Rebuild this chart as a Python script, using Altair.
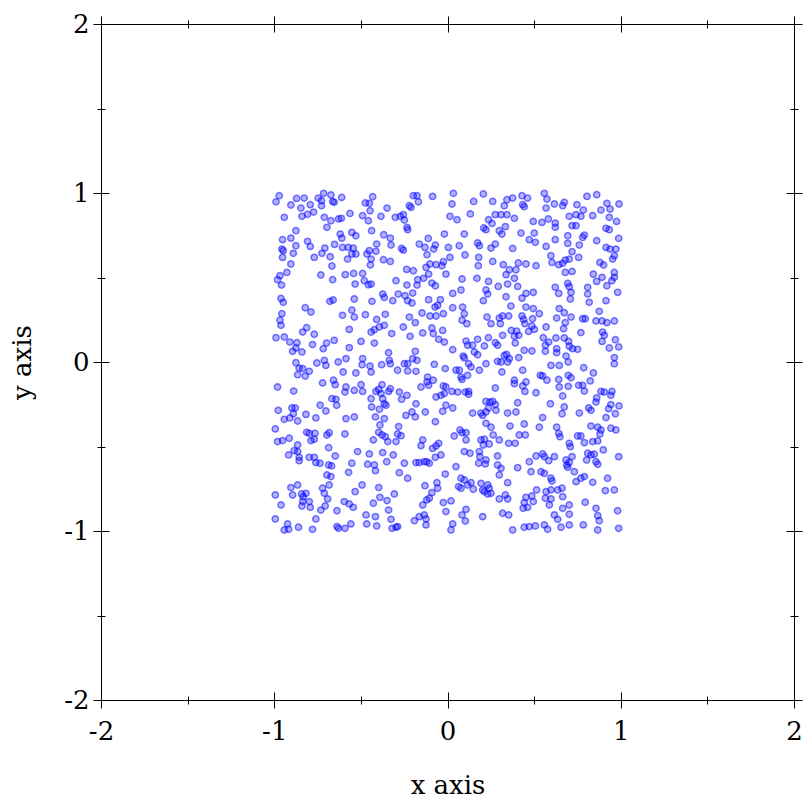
import altair as alt
import pandas as pd

# Points (x, y), grouped by band of the square
TOP_BAND = [
    (-0.971,0.984),(-0.990,0.948),(-0.871,0.968),(-0.827,0.970),(-0.904,0.929),(-0.846,0.911),(-0.792,0.931),(-0.746,0.970),(-0.715,0.998),(-0.673,0.988),(-0.727,0.954),(-0.727,0.925),(-0.663,0.950),(-0.654,0.945),(-0.611,0.974),(-0.942,0.856),(-0.840,0.862),(-0.808,0.874),(-0.773,0.887),(-0.711,0.856),(-0.673,0.836),(-0.629,0.846),(-0.613,0.850),(-0.563,0.879),(-0.696,0.797),(-0.875,0.777),(-0.952,0.724),(-0.904,0.733),(-0.875,0.688),(-0.956,0.668),(-0.948,0.659),(-0.952,0.619),(-0.890,0.643),(-0.808,0.714),(-0.792,0.684),(-0.708,0.674),(-0.725,0.643),(-0.769,0.619),(-0.677,0.623),(-0.652,0.696),(-0.619,0.757),(-0.610,0.733),(-0.606,0.678),(-0.573,0.678),(-0.544,0.674),(-0.552,0.767),(-0.529,0.747),(-0.552,0.639),(-0.577,0.609),(-0.529,0.639),(-0.667,0.568),(-0.904,0.580),(-0.927,0.530),(-0.967,0.511),(-0.981,0.487),(-0.958,0.455),(-0.731,0.515),(-0.663,0.487),(-0.590,0.517),(-0.542,0.524),(-0.533,0.461),(-0.961,0.376),(-0.948,0.353),(-0.679,0.359),(-0.660,0.367),(-0.538,0.373),
    (-0.432,0.978),(-0.474,0.941),(-0.451,0.939),(-0.447,0.895),(-0.490,0.866),(-0.457,0.836),(-0.384,0.862),(-0.349,0.911),(-0.438,0.777),(-0.301,0.856),(-0.272,0.862),(-0.255,0.872),(-0.249,0.840),(-0.234,0.797),(-0.230,0.783),(-0.220,0.925),(-0.211,0.915),(-0.197,0.984),(-0.176,0.984),(-0.168,0.948),(-0.086,0.980),(-0.368,0.753),(-0.330,0.733),(-0.326,0.692),(-0.451,0.659),(-0.409,0.698),(-0.413,0.655),(-0.465,0.639),(-0.441,0.609),(-0.445,0.574),(-0.265,0.672),(-0.255,0.662),(-0.370,0.605),(-0.330,0.595),(-0.163,0.698),(-0.130,0.678),(-0.118,0.635),(-0.111,0.731),(-0.070,0.692),(-0.080,0.668),(-0.018,0.757),(-0.490,0.524),(-0.480,0.481),(-0.457,0.457),(-0.441,0.461),(-0.297,0.481),(-0.234,0.455),(-0.236,0.548),(-0.197,0.540),(-0.172,0.487),(-0.176,0.455),(-0.124,0.560),(-0.101,0.580),(-0.066,0.576),(-0.109,0.520),(-0.138,0.495),(-0.090,0.467),(-0.070,0.451),(-0.024,0.593),(-0.032,0.570),(-0.009,0.520),(-0.436,0.359),(-0.374,0.402),(-0.365,0.382),(-0.316,0.363),(-0.284,0.402),(-0.245,0.392),(-0.201,0.408),(-0.230,0.363),(-0.109,0.369),(-0.041,0.369),
    (0.034,0.998),(0.026,0.935),(0.151,0.950),(0.207,0.994),(0.261,0.950),(0.343,0.960),(0.376,0.970),(0.430,0.984),(0.462,0.970),(0.434,0.931),(0.443,0.919),(0.328,0.925),(0.014,0.862),(0.055,0.842),(0.132,0.876),(0.237,0.842),(0.257,0.820),(0.276,0.872),(0.309,0.872),(0.343,0.872),(0.386,0.850),(0.495,0.832),(0.209,0.793),(0.222,0.783),(0.299,0.777),(0.314,0.757),(0.334,0.801),(0.424,0.763),(0.472,0.724),(0.501,0.763),(0.507,0.708),(0.097,0.757),(0.005,0.678),(0.068,0.688),(0.174,0.704),(0.184,0.688),(0.251,0.674),(0.276,0.698),(0.376,0.672),(0.014,0.619),(0.101,0.633),(0.180,0.619),(0.261,0.595),(0.178,0.570),(0.084,0.491),(0.170,0.495),(0.237,0.477),(0.322,0.576),(0.357,0.546),(0.395,0.546),(0.409,0.586),(0.453,0.580),(0.511,0.570),(0.338,0.517),(0.386,0.495),(0.405,0.447),(0.347,0.461),(0.293,0.447),(0.222,0.426),(0.232,0.402),(0.207,0.363),(0.030,0.406),(0.078,0.426),(0.338,0.386),(0.430,0.378),(0.453,0.406),(0.495,0.412),
    (0.559,0.998),(0.574,0.964),(0.617,0.935),(0.665,0.925),(0.674,0.945),(0.747,0.931),(0.805,0.980),(0.861,0.990),(0.569,0.911),(0.920,0.939),(0.938,0.905),(0.990,0.935),(0.886,0.899),(0.784,0.899),(0.742,0.872),(0.703,0.862),(0.770,0.862),(0.838,0.866),(0.934,0.856),(0.976,0.832),(0.545,0.826),(0.582,0.846),(0.622,0.822),(0.622,0.797),(0.719,0.807),(0.742,0.807),(0.915,0.791),(0.934,0.783),(0.622,0.724),(0.694,0.747),(0.694,0.702),(0.761,0.692),(0.780,0.737),(0.790,0.751),(0.861,0.718),(0.988,0.732),(0.915,0.678),(0.938,0.668),(0.972,0.668),(0.569,0.684),(0.597,0.629),(0.603,0.589),(0.642,0.576),(0.665,0.584),(0.680,0.603),(0.719,0.653),(0.703,0.609),(0.757,0.619),(0.880,0.589),(0.901,0.574),(0.963,0.629),(0.953,0.609),(0.680,0.530),(0.719,0.536),(0.842,0.520),(0.892,0.501),(0.963,0.530),(0.963,0.501),(0.949,0.481),(0.861,0.477),(0.920,0.451),(0.622,0.442),(0.642,0.406),(0.694,0.465),(0.703,0.446),(0.713,0.412),(0.709,0.373),(0.809,0.442),(0.809,0.402),(0.818,0.353),(0.915,0.363),(0.982,0.412),
]

MID_BAND = [
    (-0.821,0.321),(-0.788,0.296),(-0.956,0.286),(-0.967,0.247),(-0.961,0.217),(-0.606,0.276),(-0.552,0.306),(-0.538,0.266),(-0.813,0.203),(-0.836,0.177),(-0.769,0.164),(-0.990,0.144),(-0.942,0.148),(-0.910,0.118),(-0.869,0.114),(-0.894,0.063),(-0.875,0.083),(-0.840,0.059),(-0.779,0.103),(-0.698,0.112),(-0.654,0.128),(-0.717,0.079),(-0.567,0.193),(-0.567,0.085),(-0.875,-0.004),(-0.856,-0.036),(-0.836,-0.039),(-0.865,-0.075),(-0.821,-0.083),(-0.798,-0.055),(-0.754,-0.006),(-0.711,0.010),(-0.702,-0.020),(-0.631,0.000),(-0.586,0.020),(-0.602,-0.059),(-0.529,-0.065),(-0.981,-0.148),(-0.888,-0.172),(-0.721,-0.124),(-0.658,-0.108),(-0.648,-0.134),(-0.586,-0.148),(-0.592,-0.178),(-0.538,-0.168),(-0.667,-0.217),(-0.644,-0.221),(-0.640,-0.256),(-0.735,-0.256),(-0.702,-0.290),(-0.977,-0.286),(-0.898,-0.272),(-0.879,-0.272),(-0.890,-0.306),(-0.910,-0.331),(-0.942,-0.339),(-0.817,-0.310),(-0.760,-0.331),(-0.586,-0.335),(-0.538,-0.325),
    (-0.205,0.349),(-0.072,0.325),(-0.057,0.335),(-0.474,0.280),(-0.359,0.282),(-0.409,0.252),(-0.220,0.266),(-0.186,0.233),(-0.147,0.290),(-0.101,0.272),(-0.066,0.272),(-0.024,0.286),(-0.441,0.177),(-0.422,0.191),(-0.393,0.207),(-0.365,0.217),(-0.322,0.168),(-0.255,0.207),(-0.216,0.152),(-0.143,0.172),(-0.090,0.201),(-0.082,0.168),(-0.028,0.187),(-0.051,0.134),(-0.018,0.118),(-0.499,0.122),(-0.422,0.112),(-0.340,0.055),(-0.186,0.063),(-0.490,0.020),(-0.493,-0.016),(-0.447,-0.024),(-0.441,-0.059),(-0.380,-0.016),(-0.330,-0.010),(-0.336,0.010),(-0.288,-0.049),(-0.249,-0.010),(-0.230,-0.010),(-0.230,-0.053),(-0.201,0.020),(-0.176,0.010),(-0.182,-0.055),(-0.076,-0.014),(-0.115,-0.089),(-0.118,-0.118),(-0.082,-0.108),(-0.013,-0.039),(-0.499,-0.134),(-0.490,-0.174),(-0.441,-0.217),(-0.413,-0.174),(-0.397,-0.162),(-0.378,-0.134),(-0.384,-0.187),(-0.374,-0.217),(-0.355,-0.256),(-0.340,-0.174),(-0.330,-0.158),(-0.278,-0.178),(-0.265,-0.221),(-0.234,-0.197),(-0.153,-0.148),(-0.109,-0.138),(-0.024,-0.142),(-0.066,-0.207),(-0.038,-0.197),(-0.018,-0.187),(-0.438,-0.266),(-0.393,-0.280),(-0.365,-0.247),(-0.416,-0.325),(-0.365,-0.335),(-0.240,-0.316),(-0.205,-0.296),(-0.182,-0.247),(-0.186,-0.325),(-0.128,-0.296),(-0.028,-0.292),(-0.009,-0.256),
    (0.030,0.321),(0.087,0.325),(0.097,0.286),(0.084,0.247),(0.111,0.227),(0.366,0.331),(0.453,0.325),(0.495,0.316),(0.228,0.266),(0.251,0.227),(0.299,0.260),(0.318,0.272),(0.353,0.272),(0.305,0.227),(0.430,0.272),(0.439,0.252),(0.447,0.227),(0.491,0.256),(0.487,0.213),(0.368,0.187),(0.399,0.183),(0.386,0.152),(0.411,0.158),(0.468,0.181),(0.501,0.193),(0.107,0.124),(0.116,0.099),(0.145,0.099),(0.155,0.059),(0.174,0.043),(0.174,0.134),(0.236,0.144),(0.213,0.095),(0.276,0.114),(0.289,0.099),(0.318,0.158),(0.391,0.112),(0.030,0.073),(0.091,0.035),(0.097,0.024),(0.122,-0.010),(0.136,-0.030),(0.222,-0.010),(0.184,-0.049),(0.049,-0.049),(0.068,-0.049),(0.078,-0.089),(0.084,-0.103),(0.116,-0.079),(0.289,0.004),(0.309,0.000),(0.328,0.039),(0.341,0.045),(0.347,0.000),(0.357,0.020),(0.411,0.026),(0.434,-0.049),(0.443,0.069),(0.487,0.065),(0.314,-0.059),(-0.009,-0.148),(0.026,-0.174),(0.059,-0.178),(0.103,-0.178),(0.122,-0.174),(0.122,-0.191),(0.276,-0.154),(0.386,-0.108),(0.386,-0.128),(0.453,-0.118),(0.434,-0.142),(0.447,-0.174),(0.511,-0.182),(0.222,-0.233),(0.245,-0.237),(0.261,-0.233),(0.276,-0.252),(0.237,-0.272),(0.280,-0.286),(0.405,-0.241),(0.395,-0.296),(0.347,-0.302),(0.193,-0.302),(0.203,-0.316),(0.222,-0.296),(0.145,-0.302),(0.030,-0.272),
    (0.530,0.286),(0.569,0.207),(0.645,0.316),(0.674,0.292),(0.713,0.266),(0.630,0.260),(0.680,0.233),(0.670,0.197),(0.876,0.300),(0.857,0.243),(0.892,0.243),(0.920,0.233),(0.963,0.243),(0.780,0.256),(0.795,0.256),(0.770,0.174),(0.895,0.177),(0.905,0.158),(0.892,0.122),(0.969,0.132),(0.988,0.089),(0.934,0.083),(0.553,0.144),(0.565,0.099),(0.584,0.118),(0.626,0.142),(0.630,0.079),(0.630,0.055),(0.674,0.142),(0.699,0.122),(0.703,0.093),(0.722,0.079),(0.751,0.075),(0.684,0.035),(0.697,0.000),(0.645,-0.020),(0.597,-0.020),(0.565,0.063),(0.963,0.026),(0.963,-0.010),(0.786,-0.034),(0.842,-0.065),(0.536,-0.079),(0.549,-0.083),(0.574,-0.108),(0.642,-0.103),(0.697,-0.079),(0.713,-0.093),(0.645,-0.148),(0.697,-0.144),(0.757,-0.138),(0.780,-0.138),(0.790,-0.172),(0.824,-0.112),(0.665,-0.201),(0.886,-0.174),(0.905,-0.178),(0.949,-0.174),(0.861,-0.213),(0.857,-0.237),(0.943,-0.197),(0.594,-0.247),(0.674,-0.266),(0.661,-0.306),(0.761,-0.302),(0.815,-0.272),(0.828,-0.286),(0.930,-0.276),(0.943,-0.252),(0.990,-0.260),(0.969,-0.306),(0.915,-0.329),(0.549,-0.329),
]

BOTTOM_BAND = [
    (-0.865,-0.349),(-0.994,-0.396),(-0.981,-0.471),(-0.952,-0.465),(-0.913,-0.451),(-0.813,-0.416),(-0.798,-0.422),(-0.765,-0.422),(-0.788,-0.465),(-0.769,-0.457),(-0.696,-0.432),(-0.683,-0.418),(-0.592,-0.426),(-0.865,-0.491),(-0.885,-0.524),(-0.865,-0.530),(-0.856,-0.564),(-0.856,-0.584),(-0.917,-0.550),(-0.798,-0.564),(-0.769,-0.564),(-0.760,-0.595),(-0.736,-0.599),(-0.686,-0.609),(-0.669,-0.615),(-0.686,-0.507),(-0.648,-0.556),(-0.552,-0.599),(-0.696,-0.668),(-0.673,-0.678),(-0.571,-0.653),(-0.519,-0.530),(-0.994,-0.787),(-0.961,-0.846),(-0.904,-0.743),(-0.865,-0.728),(-0.894,-0.787),(-0.842,-0.781),(-0.833,-0.797),(-0.817,-0.777),(-0.836,-0.826),(-0.840,-0.852),(-0.798,-0.826),(-0.792,-0.860),(-0.721,-0.747),(-0.711,-0.777),(-0.683,-0.728),(-0.692,-0.810),(-0.706,-0.852),(-0.731,-0.876),(-0.638,-0.880),(-0.596,-0.826),(-0.567,-0.840),(-0.533,-0.767),(-0.544,-0.860),(-0.994,-0.929),(-0.923,-0.958),(-0.942,-0.994),(-0.917,-0.990),(-0.860,-0.978),(-0.779,-0.990),(-0.760,-0.929),(-0.638,-0.974),(-0.629,-0.984),(-0.592,-0.984),(-0.558,-0.958),
    (-0.390,-0.373),(-0.282,-0.382),(-0.288,-0.426),(-0.268,-0.436),(-0.397,-0.416),(-0.378,-0.432),(-0.359,-0.442),(-0.345,-0.471),(-0.428,-0.461),(-0.297,-0.471),(-0.070,-0.353),(-0.153,-0.495),(-0.143,-0.461),(-0.086,-0.511),(-0.066,-0.497),(-0.051,-0.481),(-0.038,-0.550),(-0.070,-0.564),(-0.451,-0.544),(-0.374,-0.536),(-0.313,-0.550),(-0.351,-0.590),(-0.461,-0.605),(-0.422,-0.609),(-0.416,-0.643),(-0.249,-0.599),(-0.278,-0.655),(-0.230,-0.688),(-0.182,-0.595),(-0.163,-0.595),(-0.134,-0.590),(-0.120,-0.590),(-0.105,-0.599),(-0.013,-0.663),(-0.493,-0.728),(-0.397,-0.743),(-0.390,-0.801),(-0.349,-0.820),(-0.307,-0.781),(-0.428,-0.836),(-0.340,-0.876),(-0.470,-0.905),(-0.416,-0.915),(-0.326,-0.931),(-0.466,-0.958),(-0.409,-0.970),(-0.320,-0.984),(-0.297,-0.978),(-0.288,-0.974),(-0.191,-0.939),(-0.163,-0.915),(-0.134,-0.905),(-0.124,-0.929),(-0.124,-0.964),(-0.143,-0.846),(-0.120,-0.816),(-0.105,-0.806),(-0.090,-0.773),(-0.057,-0.747),(-0.061,-0.714),(-0.024,-0.832),(-0.130,-0.732),
    (0.072,-0.402),(0.084,-0.418),(0.039,-0.438),(0.107,-0.418),(0.107,-0.461),(0.222,-0.363),(0.251,-0.386),(0.361,-0.379),(0.443,-0.367),(0.097,-0.530),(0.130,-0.540),(0.193,-0.461),(0.213,-0.457),(0.207,-0.491),(0.241,-0.485),(0.264,-0.432),(0.299,-0.461),(0.353,-0.481),(0.391,-0.481),(0.414,-0.432),(0.449,-0.432),(0.184,-0.530),(0.187,-0.560),(0.180,-0.599),(0.222,-0.580),(0.218,-0.603),(0.289,-0.556),(0.289,-0.609),(0.309,-0.629),(0.511,-0.556),(0.472,-0.590),(0.482,-0.649),(0.405,-0.625),(0.049,-0.619),(0.078,-0.688),(0.097,-0.698),(0.136,-0.714),(0.116,-0.728),(0.149,-0.753),(0.078,-0.747),(0.064,-0.737),(0.193,-0.718),(0.203,-0.757),(0.232,-0.728),(0.241,-0.747),(0.213,-0.767),(0.232,-0.781),(0.251,-0.777),(0.299,-0.810),(0.334,-0.787),(0.347,-0.810),(0.347,-0.714),(0.299,-0.668),(0.020,-0.822),(-0.009,-0.885),(0.084,-0.905),(0.107,-0.872),(0.103,-0.941),(0.203,-0.915),(0.318,-0.895),(0.353,-0.905),(0.376,-0.994),(0.443,-0.978),(0.472,-0.974),(0.507,-0.970),(0.030,-0.958),(0.020,-0.994),(0.443,-0.832),(0.462,-0.860),(0.437,-0.866),(0.495,-0.826),(0.487,-0.793),(0.453,-0.801),(0.514,-0.757),
    (0.530,-0.386),(0.630,-0.386),(0.642,-0.422),(0.649,-0.442),(0.751,-0.438),(0.770,-0.438),(0.828,-0.379),(0.867,-0.386),(0.886,-0.402),(0.880,-0.426),(0.943,-0.392),(0.972,-0.402),(0.790,-0.477),(0.838,-0.471),(0.867,-0.467),(0.703,-0.481),(0.709,-0.501),(0.549,-0.544),(0.559,-0.560),(0.584,-0.584),(0.617,-0.560),(0.684,-0.580),(0.688,-0.609),(0.703,-0.595),(0.694,-0.623),(0.719,-0.560),(0.732,-0.649),(0.809,-0.540),(0.828,-0.550),(0.847,-0.546),(0.803,-0.580),(0.857,-0.590),(0.867,-0.605),(0.899,-0.520),(0.988,-0.560),(0.540,-0.649),(0.559,-0.659),(0.597,-0.688),(0.603,-0.704),(0.742,-0.708),(0.770,-0.688),(0.790,-0.678),(0.838,-0.712),(0.924,-0.688),(0.569,-0.767),(0.597,-0.757),(0.636,-0.757),(0.661,-0.747),(0.665,-0.797),(0.565,-0.806),(0.597,-0.810),(0.588,-0.846),(0.665,-0.866),(0.703,-0.846),(0.795,-0.830),(0.857,-0.866),(0.867,-0.909),(0.876,-0.939),(0.703,-0.901),(0.617,-0.905),(0.636,-0.931),(0.559,-0.964),(0.578,-0.990),(0.655,-0.978),(0.703,-0.964),(0.784,-0.964),(0.867,-0.994),(0.911,-0.761),(0.963,-0.757),(0.982,-0.880),(0.988,-0.984),
]

MAJOR_TICKS = [-2, -1, 0, 1, 2]
MINOR_TICKS = [-1.5, -0.5, 0.5, 1.5]
DOMAIN = [-2, 2]
X_TITLE = "x axis"
Y_TITLE = "y axis"

points = pd.DataFrame(TOP_BAND + MID_BAND + BOTTOM_BAND, columns=["x", "y"])
major = pd.DataFrame({"v": MAJOR_TICKS})
minor = pd.DataFrame({"v": MINOR_TICKS})

FONT = "DejaVu Serif"
FS = 26
MAJ = 16
MIN = 8
scale = alt.Scale(domain=DOMAIN, nice=False, zero=False)


def tick_axis(orient, values, size):
    return alt.Axis(orient=orient, values=values, tickSize=size, offset=-size / 2,
                    domain=False, grid=False, labels=False, tickColor="black",
                    tickWidth=1)


dots = alt.Chart(points).mark_point(
    filled=True, shape="circle", size=40, fill="blue", fillOpacity=0.3,
    stroke="blue", strokeOpacity=0.5, strokeWidth=1.5,
).encode(
    x=alt.X("x:Q", scale=scale, title=X_TITLE, axis=alt.Axis(
        orient="bottom", values=MAJOR_TICKS, tickSize=MAJ, offset=-MAJ / 2,
        domain=False, grid=False, labelExpr="'' + datum.value",
        labelFlush=False, labelOverlap=False,
        labelFont=FONT, labelFontSize=FS, labelColor="black", labelPadding=10,
        titleFont=FONT, titleFontSize=FS, titleFontWeight="normal",
        titleColor="black", titlePadding=28, tickColor="black")),
    y=alt.Y("y:Q", scale=scale, title=Y_TITLE, axis=alt.Axis(
        orient="left", values=MAJOR_TICKS, tickSize=MAJ, offset=-MAJ / 2,
        domain=False, grid=False, labelExpr="'' + datum.value",
        labelFlush=False, labelOverlap=False,
        labelFont=FONT, labelFontSize=FS, labelColor="black", labelPadding=4,
        titleFont=FONT, titleFontSize=FS, titleFontWeight="normal",
        titleColor="black", titlePadding=28, tickColor="black")),
)

major_far = alt.Chart(major).mark_point(opacity=0).encode(
    x=alt.X("v:Q", scale=scale, title=None, axis=tick_axis("top", MAJOR_TICKS, MAJ)),
    y=alt.Y("v:Q", scale=scale, title=None, axis=tick_axis("right", MAJOR_TICKS, MAJ)),
)
minor_near = alt.Chart(minor).mark_point(opacity=0).encode(
    x=alt.X("v:Q", scale=scale, title=None, axis=tick_axis("bottom", MINOR_TICKS, MIN)),
    y=alt.Y("v:Q", scale=scale, title=None, axis=tick_axis("left", MINOR_TICKS, MIN)),
)
minor_far = alt.Chart(minor).mark_point(opacity=0).encode(
    x=alt.X("v:Q", scale=scale, title=None, axis=tick_axis("top", MINOR_TICKS, MIN)),
    y=alt.Y("v:Q", scale=scale, title=None, axis=tick_axis("right", MINOR_TICKS, MIN)),
)

chart = alt.layer(dots, major_far, minor_near, minor_far).resolve_scale(
    x="independent", y="independent"
).properties(
    width=693, height=676, autosize="none",
    padding={"left": 93, "top": 16, "right": 10, "bottom": 104},
    background="white",
).configure_view(stroke="black", strokeWidth=1)

chart.save("out.html", embed_options={"renderer": "svg", "actions": False})
